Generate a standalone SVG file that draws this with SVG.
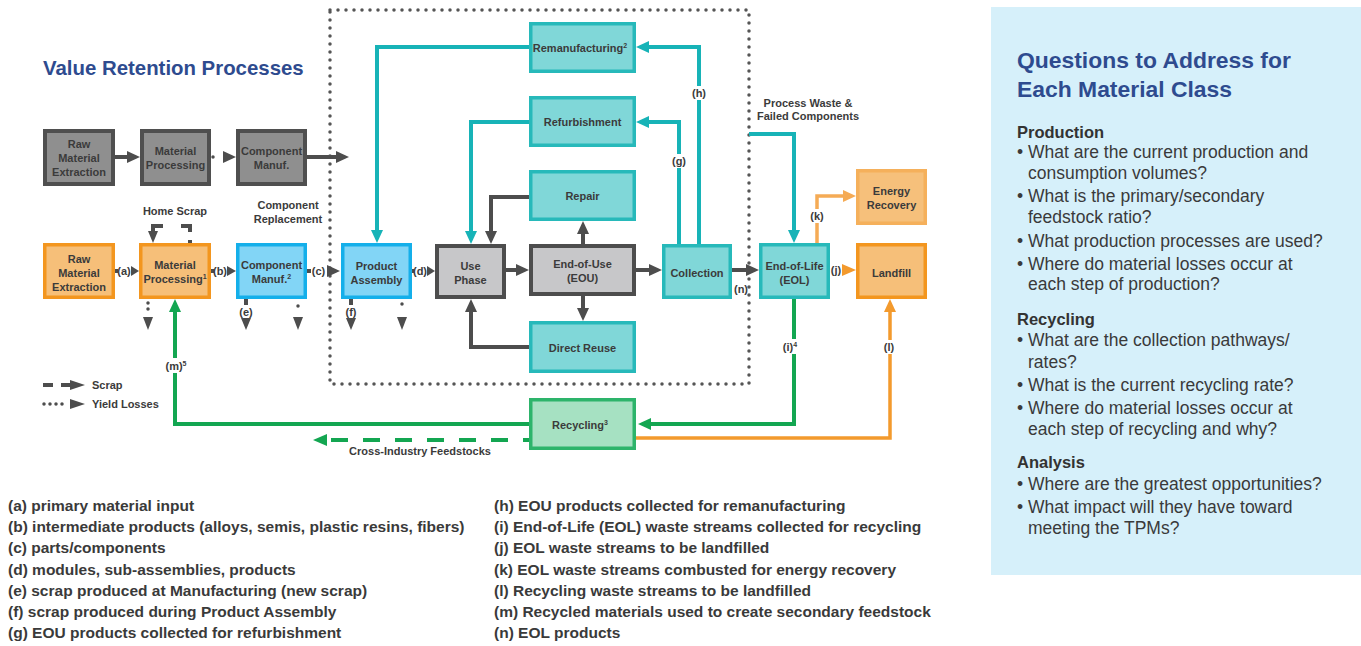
<svg xmlns="http://www.w3.org/2000/svg" width="1361" height="646" viewBox="0 0 1361 646">
<style>
text{font-family:'Liberation Sans',Arial,sans-serif}
.nt{font-size:11px;font-weight:bold;fill:#3b3b3b;text-anchor:middle}
.lb{font-size:11px;font-weight:bold;fill:#3b3b3b;text-anchor:middle}
.bg{fill:#fff}
.sup{font-size:7px}
.gd{fill:#8f8f8f;stroke:#4f4f4f;stroke-width:4}
.gl{fill:#c7c7c9;stroke:#4d4d4d;stroke-width:4}
.tl{fill:#80d7d8;stroke:#27b9ba;stroke-width:3.5}
.or{fill:#f6bf79;stroke:#f3961f;stroke-width:3.5}
.orl{fill:#f6c07b;stroke:#f5b05b;stroke-width:3.5}
.bl{fill:#82d5f6;stroke:#14afea;stroke-width:3.5}
.gr{fill:#a6e1c2;stroke:#2db46b;stroke-width:3.5}
.cg{fill:none;stroke:#4d4d4d;stroke-width:4}
.ct{fill:none;stroke:#17b3b7;stroke-width:4}
.co{fill:none;stroke:#f39a2d;stroke-width:3.5}
.col{fill:none;stroke:#f5ab55;stroke-width:3.5}
.cgr{fill:none;stroke:#13a651;stroke-width:4}
.dot{fill:none;stroke:#4d4d4d;stroke-width:3.5;stroke-linecap:round;stroke-dasharray:0 6}
.hg{fill:#4d4d4d}.ht{fill:#17b3b7}.ho{fill:#f39a2d}.hol{fill:#f5ab55}.hgr{fill:#13a651}
.leg{font-size:15.5px;font-weight:bold;fill:#3a3a3a}
.q{font-size:17.5px;fill:#3a3a3a}
.qh{font-size:16.5px;font-weight:bold;fill:#333}
.ttl{font-weight:bold;fill:#2e4b8f}
</style>

<rect id="panel" x="991" y="7" width="370" height="568" fill="#d6f0fa"/>

<text class="ttl" x="43" y="75" font-size="20.4">Value Retention Processes</text>

<!-- dotted boundary -->
<rect id="boundary" x="330" y="10" width="419" height="374" fill="none" stroke="#555" stroke-width="3.5" stroke-linecap="round" stroke-dasharray="0 8"/>

<g id="connectors">
  <!-- gray row -->
  <line class="cg" x1="115" y1="157" x2="128" y2="157"/>
  <polygon class="hg" points="140,157 127,151 127,163"/>
  <line class="dot" x1="213" y1="157" x2="219" y2="157"/>
  <polygon class="hg" points="236,157 223,151 223,163"/>
  <line class="cg" x1="307" y1="157" x2="337" y2="157"/>
  <polygon class="hg" points="349,157 336,151 336,163"/>

  <!-- orange row inline labelled arrows -->
  <line class="cg" x1="115" y1="271" x2="118" y2="271" stroke-width="3.5"/>
  <text class="nt" x="124" y="275">(a)</text>
  <polygon class="hg" points="139,271 131,266 131,276"/>
  <line class="cg" x1="211" y1="271" x2="214" y2="271" stroke-width="3.5"/>
  <text class="nt" x="220" y="275">(b)</text>
  <polygon class="hg" points="236,271 227,266 227,276"/>
  <line class="cg" x1="307" y1="271" x2="311" y2="271" stroke-width="3.5"/>
  <text class="nt" x="318.5" y="275">(c)</text>
  <polygon class="hg" points="340,271 327,265 327,277"/>
  <line class="cg" x1="412" y1="271" x2="414" y2="271" stroke-width="3.5"/>
  <text class="nt" x="420" y="275">(d)</text>
  <polygon class="hg" points="435,271 427,266 427,276"/>
  <line class="cg" x1="506" y1="270" x2="517" y2="270"/>
  <polygon class="hg" points="529,270 516,264 516,276"/>
  <line class="cg" x1="636" y1="270" x2="650" y2="270"/>
  <polygon class="hg" points="662,270 649,264 649,276"/>
  <line class="cg" x1="732" y1="270" x2="747" y2="270"/>
  <polygon class="hg" points="759,270 746,264 746,276"/>
  <text class="nt" x="741" y="293" font-size="10.5">(n)</text>

  <!-- use-phase loops -->
  <path class="cg" d="M529,197 H491 V232"/>
  <polygon class="hg" points="491,244 485,231 497,231"/>
  <line class="cg" x1="583" y1="244" x2="583" y2="233"/>
  <polygon class="hg" points="583,221 577,234 589,234"/>
  <line class="cg" x1="583" y1="296" x2="583" y2="309"/>
  <polygon class="hg" points="583,321 577,308 589,308"/>
  <path class="cg" d="M529,347 H471 V311"/>
  <polygon class="hg" points="471,299 465,312 477,312"/>

  <!-- teal -->
  <path class="ct" d="M529,47 H377 V231"/>
  <polygon class="ht" points="377,243 371,230 383,230"/>
  <path class="ct" d="M529,122 H471 V232"/>
  <polygon class="ht" points="471,244 465,231 477,231"/>
  <path class="ct" d="M699,244 V47 H648"/>
  <polygon class="ht" points="636,47 649,41 649,53"/>
  <rect class="bg" x="690" y="86" width="18" height="14"/>
  <text class="lb" x="699" y="97">(h)</text>
  <path class="ct" d="M679,244 V122 H648"/>
  <polygon class="ht" points="636,122 649,116 649,128"/>
  <rect class="bg" x="670" y="154" width="18" height="14"/>
  <text class="lb" x="679" y="165">(g)</text>
  <path class="ct" d="M749,134 H794 V231"/>
  <polygon class="ht" points="794,243 788,230 800,230"/>

  <!-- orange -->
  <path class="col" d="M817,243 V196 H844"/>
  <polygon class="hol" points="856,196 843,190 843,202"/>
  <rect class="bg" x="808" y="209" width="18" height="14"/>
  <text class="lb" x="817" y="220">(k)</text>
  <text class="nt" x="836" y="274">(j)</text>
  <polygon class="ho" points="856,270 842,264 842,276"/>
  <path class="co" d="M636,438 H890 V311"/>
  <polygon class="ho" points="890,299 884,312 896,312"/>
  <rect class="bg" x="882" y="340" width="15" height="14"/>
  <text class="lb" x="889" y="351">(l)</text>

  <!-- green -->
  <path class="cgr" d="M794,299 V424 H650"/>
  <polygon class="hgr" points="638,424 651,418 651,430"/>
  <rect class="bg" x="781" y="339" width="20" height="15"/>
  <text class="lb" x="790" y="351">(i)<tspan class="sup" dy="-4">4</tspan></text>
  <path class="cgr" d="M529,424 H175 V312"/>
  <polygon class="hgr" points="175,299 169,312 181,312"/>
  <rect class="bg" x="163" y="358" width="27" height="15"/>
  <text class="lb" x="176" y="370">(m)<tspan class="sup" dy="-4">5</tspan></text>
  <path class="cgr" d="M529,440 H328" stroke-dasharray="17 15" stroke-dashoffset="11"/>
  <polygon class="hgr" points="313,440 327,434 327,446"/>
  <text class="nt" x="420" y="455">Cross-Industry Feedstocks</text>

  <!-- home scrap -->
  <path class="cg" d="M190,243 V226 H153 V232" stroke-width="3.5" stroke-dasharray="3 8 15 18 30"/>
  <polygon class="hg" points="153,243 148,231 158,231"/>

  <!-- scrap / yield losses below nodes -->
  <line class="dot" x1="148" y1="303" x2="148" y2="310"/>
  <polygon class="hg" points="148,330 143,317 153,317"/>
  <line class="cg" x1="246" y1="299" x2="246" y2="305" stroke-width="3.5"/>
  <text class="nt" x="246" y="316">(e)</text>
  <polygon class="hg" points="246,330 241,318 251,318"/>
  <line class="dot" x1="298" y1="306" x2="298" y2="309"/>
  <polygon class="hg" points="298,330 293,317 303,317"/>
  <line class="cg" x1="351" y1="299" x2="351" y2="305" stroke-width="3.5"/>
  <text class="nt" x="351" y="316">(f)</text>
  <polygon class="hg" points="351,330 346,318 356,318"/>
  <line class="dot" x1="402" y1="304" x2="402" y2="310"/>
  <polygon class="hg" points="402,330 397,317 407,317"/>
</g>

<g id="legend-keys">
  <line class="cg" x1="43" y1="385" x2="53" y2="385" stroke-width="3.5"/>
  <line class="cg" x1="61" y1="385" x2="71" y2="385" stroke-width="3.5"/>
  <polygon class="hg" points="85,385 70,380 70,390"/>
  <text class="nt" x="92" y="389" style="text-anchor:start">Scrap</text>
  <line class="dot" x1="44" y1="404" x2="64" y2="404" stroke-dasharray="0 6.5"/>
  <polygon class="hg" points="85,404 70,399 70,409"/>
  <text class="nt" x="92" y="408" style="text-anchor:start">Yield Losses</text>
</g>

<g id="annotations">
  <text class="nt" x="175" y="215">Home Scrap</text>
  <text class="nt" x="288" y="209">Component</text>
  <text class="nt" x="288" y="223">Replacement</text>
  <text class="nt" x="808" y="107">Process Waste &amp;</text>
  <text class="nt" x="808" y="120">Failed Components</text>
</g>

<!-- nodes -->
<g id="raw-gray"><rect class="gd" x="45" y="131" width="68" height="53"/>
  <text class="nt" x="79" y="148">Raw</text><text class="nt" x="79" y="162">Material</text><text class="nt" x="79" y="176">Extraction</text></g>
<g id="matproc-gray"><rect class="gd" x="142" y="131" width="67" height="53"/>
  <text class="nt" x="175.5" y="155">Material</text><text class="nt" x="175.5" y="169">Processing</text></g>
<g id="compman-gray"><rect class="gd" x="238" y="131" width="67" height="53"/>
  <text class="nt" x="271.5" y="155">Component</text><text class="nt" x="271.5" y="169">Manuf.</text></g>

<g id="raw"><rect class="or" x="44.75" y="244.75" width="68.5" height="52.5"/>
  <text class="nt" x="79" y="263">Raw</text><text class="nt" x="79" y="277">Material</text><text class="nt" x="79" y="291">Extraction</text></g>
<g id="matproc"><rect class="or" x="140.75" y="244.75" width="68.5" height="52.5"/>
  <text class="nt" x="175" y="269">Material</text><text class="nt" x="175" y="283">Processing<tspan class="sup" dy="-4">1</tspan></text></g>
<g id="compman"><rect class="bl" x="237.75" y="244.75" width="67.5" height="52.5"/>
  <text class="nt" x="271.5" y="269">Component</text><text class="nt" x="271.5" y="283">Manuf.<tspan class="sup" dy="-4">2</tspan></text></g>
<g id="assembly"><rect class="bl" x="342.75" y="244.75" width="67.5" height="52.5"/>
  <text class="nt" x="376.5" y="270">Product</text><text class="nt" x="376.5" y="284">Assembly</text></g>
<g id="use"><rect class="gl" x="437" y="246" width="67" height="51"/>
  <text class="nt" x="470.5" y="270">Use</text><text class="nt" x="470.5" y="284">Phase</text></g>
<g id="eou"><rect class="gl" x="531" y="246" width="103" height="48"/>
  <text class="nt" x="582.5" y="268">End-of-Use</text><text class="nt" x="582.5" y="282">(EOU)</text></g>
<g id="collection"><rect class="tl" x="663.75" y="245.75" width="66.5" height="51.5"/>
  <text class="nt" x="697" y="277">Collection</text></g>
<g id="eol"><rect class="tl" x="760.75" y="244.75" width="67.5" height="52.5"/>
  <text class="nt" x="794.5" y="270">End-of-Life</text><text class="nt" x="794.5" y="284">(EOL)</text></g>
<g id="landfill"><rect class="or" x="857.75" y="244.75" width="67.5" height="52.5"/>
  <text class="nt" x="891.5" y="277">Landfill</text></g>
<g id="energy"><rect class="orl" x="857.75" y="170.75" width="67.5" height="52.5"/>
  <text class="nt" x="891.5" y="195">Energy</text><text class="nt" x="891.5" y="209">Recovery</text></g>
<g id="reman"><rect class="tl" x="530.75" y="23.75" width="103.5" height="47.5"/>
  <text class="nt" x="580" y="52">Remanufacturing<tspan class="sup" dy="-4">2</tspan></text></g>
<g id="refurb"><rect class="tl" x="530.75" y="97.75" width="103.5" height="47.5"/>
  <text class="nt" x="582.5" y="126">Refurbishment</text></g>
<g id="repair"><rect class="tl" x="530.75" y="171.75" width="103.5" height="47.5"/>
  <text class="nt" x="582.5" y="200">Repair</text></g>
<g id="reuse"><rect class="tl" x="530.75" y="322.75" width="103.5" height="48.5"/>
  <text class="nt" x="582.5" y="352">Direct Reuse</text></g>
<g id="recycling"><rect class="gr" x="530.75" y="399.75" width="103.5" height="48.5"/>
  <text class="nt" x="580" y="429">Recycling<tspan class="sup" dy="-4">3</tspan></text></g>

<g id="legend">
  <text class="leg" x="8" y="511">(a) primary material input</text>
  <text class="leg" x="8" y="532">(b) intermediate products (alloys, semis, plastic resins, fibers)</text>
  <text class="leg" x="8" y="553">(c) parts/components</text>
  <text class="leg" x="8" y="575">(d) modules, sub-assemblies, products</text>
  <text class="leg" x="8" y="596">(e) scrap produced at Manufacturing (new scrap)</text>
  <text class="leg" x="8" y="617">(f) scrap produced during Product Assembly</text>
  <text class="leg" x="8" y="638">(g) EOU products collected for refurbishment</text>
  <text class="leg" x="494" y="511">(h) EOU products collected for remanufacturing</text>
  <text class="leg" x="494" y="532">(i) End-of-Life (EOL) waste streams collected for recycling</text>
  <text class="leg" x="494" y="553">(j) EOL waste streams to be landfilled</text>
  <text class="leg" x="494" y="575">(k) EOL waste streams combusted for energy recovery</text>
  <text class="leg" x="494" y="596">(l) Recycling waste streams to be landfilled</text>
  <text class="leg" x="494" y="617">(m) Recycled materials used to create secondary feedstock</text>
  <text class="leg" x="494" y="638">(n) EOL products</text>
</g>

<g id="questions">
  <text class="ttl" x="1017" y="68" font-size="22.9">Questions to Address for</text>
  <text class="ttl" x="1017" y="97" font-size="22.9">Each Material Class</text>
  <text class="qh" x="1017" y="138">Production</text>
  <text class="q" x="1017" y="158">•</text><text class="q" x="1028" y="158">What are the current production and</text>
  <text class="q" x="1028" y="179">consumption volumes?</text>
  <text class="q" x="1017" y="202">•</text><text class="q" x="1028" y="202">What is the primary/secondary</text>
  <text class="q" x="1028" y="223">feedstock ratio?</text>
  <text class="q" x="1017" y="247">•</text><text class="q" x="1028" y="247">What production processes are used?</text>
  <text class="q" x="1017" y="270">•</text><text class="q" x="1028" y="270">Where do material losses occur at</text>
  <text class="q" x="1028" y="290">each step of production?</text>
  <text class="qh" x="1017" y="325">Recycling</text>
  <text class="q" x="1017" y="346">•</text><text class="q" x="1028" y="346">What are the collection pathways/</text>
  <text class="q" x="1028" y="368">rates?</text>
  <text class="q" x="1017" y="391">•</text><text class="q" x="1028" y="391">What is the current recycling rate?</text>
  <text class="q" x="1017" y="414">•</text><text class="q" x="1028" y="414">Where do material losses occur at</text>
  <text class="q" x="1028" y="435">each step of recycling and why?</text>
  <text class="qh" x="1017" y="468">Analysis</text>
  <text class="q" x="1017" y="490">•</text><text class="q" x="1028" y="490">Where are the greatest opportunities?</text>
  <text class="q" x="1017" y="513">•</text><text class="q" x="1028" y="513">What impact will they have toward</text>
  <text class="q" x="1028" y="534">meeting the TPMs?</text>
</g>
</svg>
